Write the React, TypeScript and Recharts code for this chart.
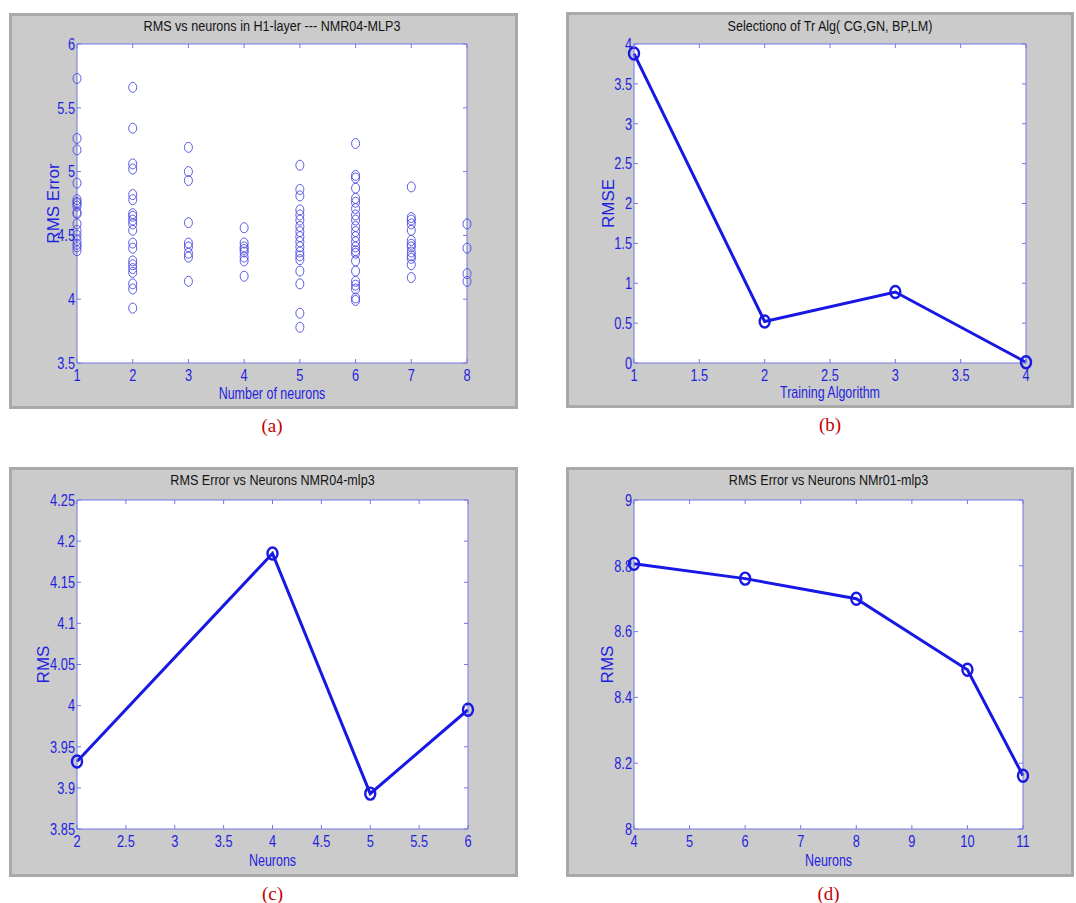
import React from 'react';
import { ComposedChart, Scatter, Line, XAxis, YAxis, CartesianGrid } from 'recharts';

// (a) RMS error of repeated runs for each hidden-layer size
const neuronCounts = [1, 2, 3, 4, 5, 6, 7, 8];
const rmsRuns1 = [5.73, 5.26, 5.17, 4.91, 4.78, 4.76, 4.75, 4.73, 4.68, 4.67, 4.59, 4.54, 4.5, 4.46, 4.43, 4.41, 4.38];
const rmsRuns2 = [5.66, 5.34, 5.06, 5.02, 4.82, 4.78, 4.67, 4.65, 4.62, 4.59, 4.54, 4.44, 4.4, 4.3, 4.27, 4.24, 4.21, 4.12, 4.08, 3.93];
const rmsRuns3 = [5.19, 5.0, 4.93, 4.6, 4.44, 4.41, 4.36, 4.33, 4.14];
const rmsRuns4 = [4.56, 4.44, 4.41, 4.39, 4.37, 4.33, 4.3, 4.18];
const rmsRuns5 = [5.05, 4.86, 4.81, 4.7, 4.66, 4.62, 4.57, 4.53, 4.49, 4.45, 4.41, 4.37, 4.34, 4.31, 4.22, 4.12, 3.89, 3.78];
const rmsRuns6 = [5.22, 4.97, 4.95, 4.87, 4.79, 4.76, 4.71, 4.66, 4.62, 4.57, 4.53, 4.49, 4.45, 4.41, 4.38, 4.36, 4.3, 4.22, 4.14, 4.11, 4.08, 4.01, 3.99];
const rmsRuns7 = [4.88, 4.64, 4.62, 4.59, 4.54, 4.46, 4.43, 4.41, 4.37, 4.34, 4.32, 4.27, 4.17];
const rmsRuns8 = [4.59, 4.4, 4.2, 4.14];
const ticksAx = [1, 2, 3, 4, 5, 6, 7, 8];
const ticksAy = [3.5, 4, 4.5, 5, 5.5, 6];

// (b) training algorithm selection
const algorithms = [1, 2, 3, 4];
const algRmse = [3.88, 0.52, 0.89, 0.01];
const ticksBx = [1, 1.5, 2, 2.5, 3, 3.5, 4];
const ticksBy = [0, 0.5, 1, 1.5, 2, 2.5, 3, 3.5, 4];

// (c) NMR04-mlp3
const neuronsC = [2, 4, 5, 6];
const rmsC = [3.932, 4.185, 3.893, 3.995];
const ticksCx = [2, 2.5, 3, 3.5, 4, 4.5, 5, 5.5, 6];
const ticksCy = [3.85, 3.9, 3.95, 4, 4.05, 4.1, 4.15, 4.2, 4.25];

// (d) NMr01-mlp3
const neuronsD = [4, 6, 8, 10, 11];
const rmsD = [8.806, 8.761, 8.7, 8.484, 8.162];
const ticksDx = [4, 5, 6, 7, 8, 9, 10, 11];
const ticksDy = [8, 8.2, 8.4, 8.6, 8.8, 9];

const runsByCount = [rmsRuns1, rmsRuns2, rmsRuns3, rmsRuns4, rmsRuns5, rmsRuns6, rmsRuns7, rmsRuns8];
const scatterData = neuronCounts.flatMap((n, i) => runsByCount[i].map((v) => ({ x: n, y: v })));
const dataB = algorithms.map((x, i) => ({ x, y: algRmse[i] }));
const dataC = neuronsC.map((x, i) => ({ x, y: rmsC[i] }));
const dataD = neuronsD.map((x, i) => ({ x, y: rmsD[i] }));

const AXIS = '#7676e8';
const BLUE = '#1f1fe0';
const LINE = '#1818e4';
const SANS = "'Liberation Sans', Arial, sans-serif";
const TICK = 4;

// the source figure is squeezed horizontally, so horizontal texts get a scaleX
const Squeezed = ({ x, y, size, fill, sx, anchor = 'middle', dy, children }: any) => (
  <text
    transform={`translate(${x} ${y}) scale(${sx} 1)`}
    textAnchor={anchor}
    dy={dy}
    fontSize={size}
    fill={fill}
    fontFamily={SANS}
  >
    {children}
  </text>
);

const BottomTick = (p: any) => (
  <g>
    <line x1={p.x} x2={p.x} y1={p.y} y2={p.y - TICK} stroke={AXIS} />
    <Squeezed x={p.x} y={p.y + 18} size={16} sx={0.8} fill={BLUE}>{p.payload.value}</Squeezed>
  </g>
);
const TopTick = (p: any) => <line x1={p.x} x2={p.x} y1={p.y} y2={p.y + TICK} stroke={AXIS} />;
const LeftTick = (p: any) => (
  <g>
    <line x1={p.x} x2={p.x + TICK} y1={p.y} y2={p.y} stroke={AXIS} />
    <Squeezed x={p.x - 2} y={p.y} dy="0.36em" anchor="end" size={16} sx={0.8} fill={BLUE}>
      {p.payload.value}
    </Squeezed>
  </g>
);
const RightTick = (p: any) => <line x1={p.x} x2={p.x - TICK} y1={p.y} y2={p.y} stroke={AXIS} />;

const titleLabel = (text: string, offset: number) => (p: any) => {
  const vb = p.viewBox || { x: 0, y: 0, width: 0, height: 0 };
  return (
    <Squeezed x={vb.x + vb.width / 2} y={vb.y - offset} size={15} sx={0.84} fill="#141414">
      {text}
    </Squeezed>
  );
};
const xAxisLabel = (text: string, offset: number) => (p: any) => {
  const vb = p.viewBox || { x: 0, y: 0, width: 0, height: 0 };
  return (
    <Squeezed x={vb.x + vb.width / 2} y={vb.y + vb.height - offset} size={16} sx={0.78} fill={BLUE}>
      {text}
    </Squeezed>
  );
};

const ring = (p: any) => (
  <ellipse cx={p.cx} cy={p.cy} rx={4} ry={5} fill="none" stroke="#4a4ae2" strokeWidth={0.9} />
);
const marker = (p: any) => (
  <ellipse key={p.index} cx={p.cx} cy={p.cy} rx={5} ry={6} fill="none" stroke={LINE} strokeWidth={2.4} />
);

interface PanelProps {
  box: { x: number; y: number; w: number; h: number };
  margin: { top: number; right: number; bottom: number; left: number };
  data: { x: number; y: number }[];
  xTicks: number[];
  yTicks: number[];
  title: string;
  xLabel: string;
  yLabel: string;
  offsets: [number, number, number];
  caption: string;
  children: React.ReactNode;
}

const Panel = ({ box, margin, data, xTicks, yTicks, title, xLabel, yLabel, offsets, caption, children }: PanelProps) => {
  const xDomain = [xTicks[0], xTicks[xTicks.length - 1]];
  const yDomain = [yTicks[0], yTicks[yTicks.length - 1]];
  return (
    <>
      <div
        style={{
          position: 'absolute', left: box.x, top: box.y, width: box.w, height: box.h,
          background: '#cbcbcb', border: '3px solid #a9a9a9', boxSizing: 'border-box'
        }}
      />
      <div style={{ position: 'absolute', left: box.x, top: box.y }}>
        <ComposedChart width={box.w} height={box.h} data={data} margin={margin}>
          <CartesianGrid fill="#ffffff" stroke="none" horizontal={false} vertical={false} xAxisId="b" yAxisId="l" />
          <XAxis
            xAxisId="b" dataKey="x" type="number" domain={xDomain} ticks={xTicks} interval={0}
            height={40} tickSize={0} tickMargin={0} tickLine={false}
            axisLine={{ stroke: AXIS }} tick={BottomTick}
            label={{ content: xAxisLabel(xLabel, offsets[1]) }}
          />
          <XAxis
            xAxisId="t" dataKey="x" orientation="top" type="number" domain={xDomain} ticks={xTicks} interval={0}
            height={10} tickSize={0} tickMargin={0} tickLine={false}
            axisLine={{ stroke: AXIS }} tick={TopTick}
            label={{ content: titleLabel(title, offsets[0]) }}
          />
          <YAxis
            yAxisId="l" dataKey="y" type="number" domain={yDomain} ticks={yTicks} interval={0}
            width={50} tickSize={0} tickMargin={0} tickLine={false}
            axisLine={{ stroke: AXIS }} tick={LeftTick}
            label={{ value: yLabel, angle: -90, position: 'insideLeft', offset: offsets[2], fill: BLUE, fontSize: 17, fontFamily: SANS, style: { textAnchor: 'middle' } }}
          />
          <YAxis
            yAxisId="r" dataKey="y" orientation="right" type="number" domain={yDomain} ticks={yTicks} interval={0}
            width={10} tickSize={0} tickMargin={0} tickLine={false}
            axisLine={{ stroke: AXIS }} tick={RightTick}
          />
          {children}
        </ComposedChart>
      </div>
      <div
        style={{
          position: 'absolute', left: box.x + margin.left + 50, width: box.w - margin.left - margin.right - 60,
          top: box.y + box.h + 6, textAlign: 'center', color: '#c40000',
          fontFamily: "'Liberation Serif', 'Times New Roman', serif", fontSize: 19, lineHeight: '22px'
        }}
      >
        {caption}
      </div>
    </>
  );
};

export default function App() {
  return (
    <div style={{ position: 'absolute', left: 0, top: 0, width: 1076, height: 903, background: '#ffffff', overflow: 'hidden' }}>
      <Panel
        box={{ x: 9, y: 13, w: 509, h: 396 }}
        margin={{ top: 21, right: 41, bottom: 6, left: 18 }}
        data={scatterData}
        xTicks={ticksAx}
        yTicks={ticksAy}
        title="RMS vs neurons in H1-layer --- NMR04-MLP3"
        xLabel="Number of neurons"
        yLabel="RMS Error"
        offsets={[3, 4, 26]}
        caption="(a)"
      >
        <Scatter xAxisId="b" yAxisId="l" dataKey="y" shape={ring} isAnimationActive={false} />
      </Panel>
      <Panel
        box={{ x: 566, y: 12, w: 508, h: 396 }}
        margin={{ top: 22, right: 38, bottom: 5, left: 18 }}
        data={dataB}
        xTicks={ticksBx}
        yTicks={ticksBy}
        title="Selectiono of Tr Alg( CG,GN, BP,LM)"
        xLabel="Training Algorithm"
        yLabel="RMSE"
        offsets={[3, 5, 24]}
        caption="(b)"
      >
        <Line xAxisId="b" yAxisId="l" dataKey="y" stroke={LINE} strokeWidth={3} dot={marker} activeDot={false} isAnimationActive={false} />
      </Panel>
      <Panel
        box={{ x: 9, y: 467, w: 509, h: 410 }}
        margin={{ top: 23, right: 40, bottom: 8, left: 18 }}
        data={dataC}
        xTicks={ticksCx}
        yTicks={ticksCy}
        title="RMS Error vs Neurons NMR04-mlp3"
        xLabel="Neurons"
        yLabel="RMS"
        offsets={[5, 3, 16]}
        caption="(c)"
      >
        <Line xAxisId="b" yAxisId="l" dataKey="y" stroke={LINE} strokeWidth={3} dot={marker} activeDot={false} isAnimationActive={false} />
      </Panel>
      <Panel
        box={{ x: 566, y: 467, w: 508, h: 410 }}
        margin={{ top: 23, right: 41, bottom: 8, left: 18 }}
        data={dataD}
        xTicks={ticksDx}
        yTicks={ticksDy}
        title="RMS Error vs Neurons NMr01-mlp3"
        xLabel="Neurons"
        yLabel="RMS"
        offsets={[5, 3, 23]}
        caption="(d)"
      >
        <Line xAxisId="b" yAxisId="l" dataKey="y" stroke={LINE} strokeWidth={3} dot={marker} activeDot={false} isAnimationActive={false} />
      </Panel>
    </div>
  );
}
